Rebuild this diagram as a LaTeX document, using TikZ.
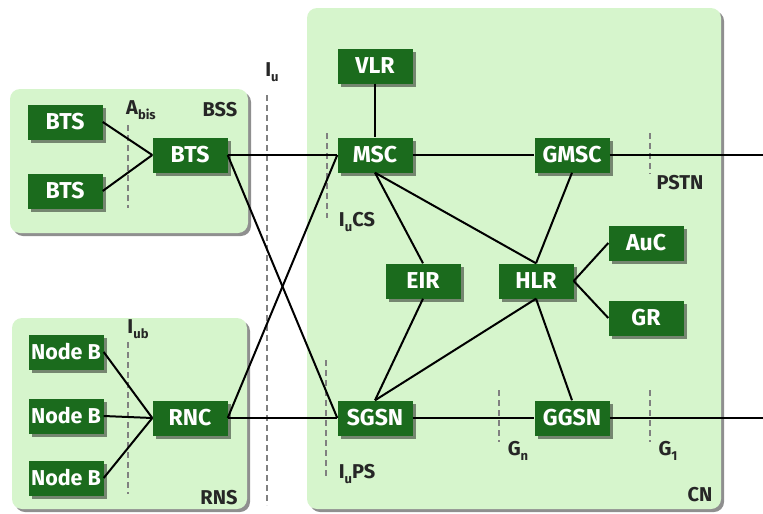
\documentclass[tikz,border=0pt]{standalone}
\usepackage{fontspec}
\setmainfont{Fira Sans}
\usetikzlibrary{shadows}
\definecolor{ngreen}{HTML}{1B6B1D}
\definecolor{bgreen}{HTML}{D6F5CC}
\newcommand\lsub[1]{\raisebox{-0.5ex}{\fontsize{13}{13}\selectfont #1}}
\begin{document}
\begin{tikzpicture}[x=1pt,y=-1pt,
  nbox/.style={fill=ngreen,text=white,font=\bfseries\fontsize{23}{23}\selectfont,
    minimum width=75pt,minimum height=35pt,inner sep=1pt,
    drop shadow={shadow xshift=3pt,shadow yshift=-3pt,opacity=0.45,fill=black}},
  region/.style={fill=bgreen,rounded corners=10pt,
    drop shadow={shadow xshift=3pt,shadow yshift=-3pt,opacity=0.55,fill=black!80}},
  link/.style={line width=2pt,black},
  iface/.style={draw=black!50,line width=1.3pt,dash pattern=on 6pt off 4pt},
  lbl/.style={font=\bfseries\fontsize{20}{20}\selectfont,text=black!85,inner sep=0pt}]
\useasboundingbox (0,0) rectangle (763,514);

% regions
\path[region] (10,89) rectangle (248,233);
\path[region] (12,318) rectangle (247,509);
\path[region] (307,8) rectangle (721,509);

% interface dashed lines
\draw[iface] (128,125) -- (128,208);
\draw[iface] (128,342) -- (128,494);
\draw[iface] (267,95) -- (267,505);
\draw[iface] (327,133) -- (327,218);
\draw[iface] (326,360) -- (326,478);
\draw[iface] (499,390) -- (499,442);
\draw[iface] (650,390) -- (650,442);
\draw[iface] (650,133) -- (650,174);

% nodes
\node[nbox] (bts1) at (65,122) {BTS};
\node[nbox] (bts2) at (65,191) {BTS};
\node[nbox] (bts)  at (190,155) {BTS};
\node[nbox,font=\bfseries\fontsize{21.5}{21.5}\selectfont] (nb1) at (66,352) {Node B};
\node[nbox,font=\bfseries\fontsize{21.5}{21.5}\selectfont] (nb2) at (66,416) {Node B};
\node[nbox,font=\bfseries\fontsize{21.5}{21.5}\selectfont] (nb3) at (66,478) {Node B};
\node[nbox] (rnc) at (190,418) {RNC};
\node[nbox] (vlr) at (375,66) {VLR};
\node[nbox] (msc) at (375,155) {MSC};
\node[nbox] (gmsc) at (572,155) {GMSC};
\node[nbox] (eir) at (423,281) {EIR};
\node[nbox] (hlr) at (536,281) {HLR};
\node[nbox] (auc) at (646,243) {AuC};
\node[nbox] (gr) at (646,318) {GR};
\node[nbox] (sgsn) at (375,418) {SGSN};
\node[nbox] (ggsn) at (572,418) {GGSN};
\coordinate (e1) at (763,155);
\coordinate (e2) at (763,418);

% connectors
\draw[link] (bts1.east) -- (bts.west);
\draw[link] (bts2.east) -- (bts.west);
\draw[link] (bts.east) -- (msc.west);
\draw[link] (msc) -- (gmsc);
\draw[link] (gmsc.east) -- (e1);
\draw[link] (bts.east) -- (sgsn.west);
\draw[link] (rnc.east) -- (msc.west);
\draw[link] (rnc.east) -- (sgsn.west);
\draw[link] (sgsn) -- (ggsn);
\draw[link] (ggsn.east) -- (e2);
\draw[link] (nb1.east) -- (rnc.west);
\draw[link] (nb2.east) -- (rnc.west);
\draw[link] (nb3.east) -- (rnc.west);
\draw[link] (vlr.south) -- (msc.north);
\draw[link] (msc.south) -- (eir.north);
\draw[link] (msc.south) -- (hlr.north);
\draw[link] (gmsc.south) -- (hlr.north);
\draw[link] (hlr.east) -- (auc.west);
\draw[link] (hlr.east) -- (gr.west);
\draw[link] (eir.south) -- (sgsn.north);
\draw[link] (hlr.south) -- (sgsn.north);
\draw[link] (hlr.south) -- (ggsn.north);

% labels
\node[lbl] (lbss) at (220,110) {BSS};
\node[lbl] (lrns) at (219,498) {RNS};
\node[lbl] (lcn) at (700,495) {CN};
\node[lbl] (lpstn) at (680,183) {PSTN};
\node[lbl] (labis) at (141,110) {A\lsub{bis}};
\node[lbl] (liub) at (138,329) {I\lsub{ub}};
\node[lbl] (liu) at (272,72) {I\lsub{u}};
\node[lbl] (liucs) at (357,222) {I\lsub{u}CS};
\node[lbl] (liups) at (357,474) {I\lsub{u}PS};
\node[lbl] (lgn) at (518,451) {G\lsub{n}};
\node[lbl] (lg1) at (668,451) {G\lsub{1}};
\end{tikzpicture}
\end{document}
